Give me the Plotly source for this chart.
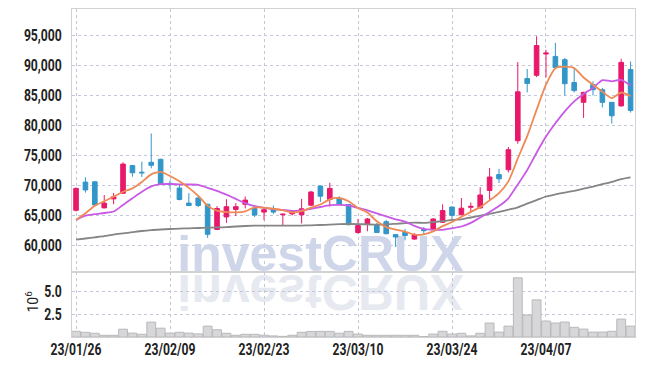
import plotly.graph_objects as go

dates = ["23/01/26", "23/01/27", "23/01/30", "23/01/31",
         "23/02/01", "23/02/02", "23/02/03", "23/02/06", "23/02/07", "23/02/08", "23/02/09",
         "23/02/10", "23/02/13", "23/02/14", "23/02/15", "23/02/16", "23/02/17", "23/02/20",
         "23/02/21", "23/02/22", "23/02/23", "23/02/24", "23/02/27", "23/02/28",
         "23/03/02", "23/03/03", "23/03/06", "23/03/07", "23/03/08", "23/03/09", "23/03/10",
         "23/03/13", "23/03/14", "23/03/15", "23/03/16", "23/03/17", "23/03/20", "23/03/21",
         "23/03/22", "23/03/23", "23/03/24", "23/03/27", "23/03/28", "23/03/29", "23/03/30",
         "23/03/31", "23/04/03", "23/04/04", "23/04/05", "23/04/06", "23/04/07", "23/04/10",
         "23/04/11", "23/04/12", "23/04/13", "23/04/14", "23/04/17", "23/04/18", "23/04/19",
         "23/04/20"]

open_ = [65900, 70600, 70650, 66300, 67800, 68750, 73350, 72250, 73900, 74400,
         70400, 69600, 67100, 67950, 66900, 62700, 64800, 66050, 66900, 66200,
         65600, 66100, 65150, 65300, 65150, 66750, 69950, 67700, 67900, 66850,
         62200, 63600, 63500, 64000, 61850, 62200, 61100, 62700, 62800, 63900,
         66450, 65150, 66400, 66300, 69200, 71850, 72650, 77500, 87850, 88400,
         91950, 91550, 91000, 87200, 83900, 86850, 86000, 83900, 83300, 89350]
high = [69700, 71400, 70700, 68450, 68800, 73900, 73400, 74000, 78700, 74500,
        70900, 70200, 68750, 68250, 67000, 66600, 67750, 67100, 68200, 66750,
        66150, 66700, 65300, 65900, 67800, 69150, 70000, 70500, 68250, 66900,
        64450, 64600, 63800, 64300, 61900, 62800, 62100, 63100, 64600, 66900,
        66500, 67950, 67200, 69750, 72950, 72800, 76450, 90600, 89450, 94900,
        92650, 93800, 91300, 89500, 85650, 87400, 86300, 83950, 91150, 90700]
low = [65700, 68850, 66700, 66250, 66900, 68600, 71500, 71450, 72900, 70100,
       69400, 67550, 66600, 66450, 61300, 62600, 63800, 64950, 66200, 64800,
       64250, 65300, 63300, 65050, 63700, 66600, 67300, 66500, 66800, 63400,
       62000, 62400, 62100, 61900, 59800, 60900, 61000, 61900, 62700, 63800,
       64050, 65050, 65450, 66200, 67550, 70450, 72200, 77000, 85550, 88100,
       88050, 89600, 85000, 85550, 81300, 85050, 83050, 80350, 83200, 82200]
close = [69550, 69300, 66780, 67100, 68150, 73600, 72150, 72150, 73400, 70200,
         70200, 67700, 66700, 66700, 61900, 66200, 66500, 66500, 67600, 65100,
         66000, 65600, 65250, 65750, 66150, 68950, 68250, 69550, 66850, 63500,
         63350, 64450, 62200, 62000, 61450, 61700, 61850, 62500, 64450, 65850,
         65050, 66250, 66550, 68450, 71450, 71150, 76000, 85650, 87050, 93350,
         92100, 89700, 87000, 85850, 85550, 86000, 83900, 81650, 90550, 82550]

volume_m = [0.63, 0.52, 0.41, 0.19, 0.19, 0.86, 0.43, 0.30, 1.64, 0.97,
            0.43, 0.52, 0.43, 0.34, 1.20, 0.80, 0.41, 0.19, 0.30, 0.30,
            0.20, 0.12, 0.07, 0.19, 0.52, 0.61, 0.62, 0.62, 0.42, 0.62,
            0.32, 0.19, 0.19, 0.19, 0.19, 0.19, 0.19, 0.05, 0.32, 0.63,
            0.32, 0.41, 0.12, 0.41, 1.54, 0.54, 1.20, 6.52, 2.43, 4.09,
            1.76, 1.54, 1.65, 1.07, 0.87, 0.54, 0.54, 0.63, 1.97, 1.20]

ma5 = [64300, 65400, 66650, 67400, 68180, 68990, 69560, 70630, 71890, 72300,
       71620, 70730, 69640, 68300, 66640, 65840, 65600, 65560, 65740, 66380,
       66340, 66160, 65910, 65540, 65750, 66340, 66870, 67730, 67950, 67420,
       66300, 65540, 64070, 63100, 62690, 62360, 61840, 61900, 62390, 63270,
       63940, 64820, 65630, 66430, 67550, 68770, 70720, 74540, 78260, 82640,
       86830, 89570, 89840, 89600, 88040, 86820, 85660, 84590, 85530, 84930]
ma20 = [64300, 65000, 65250, 65450, 65700, 66800, 67900, 69000, 69900, 70250,
        70280, 70220, 70200, 70150, 69650, 69150, 68500, 67800, 67100, 66600,
        66300, 66100, 65950, 65800, 65900, 66150, 66450, 66750, 66800, 66700,
        66300, 65900, 65400, 64900, 64400, 64000, 63300, 62800, 62650, 62650,
        62900, 63200, 63800, 64700, 65600, 66600, 67900, 70200, 72600, 75500,
        78200, 80400, 82400, 84050, 85300, 86300, 87600, 87400, 87650, 86700]
ma60 = [61000, 61200, 61400, 61600, 61850, 62050, 62250, 62450, 62600, 62700,
        62780, 62850, 62900, 62950, 63000, 63050, 63100, 63200, 63280, 63330,
        63330, 63330, 63330, 63330, 63350, 63400, 63450, 63500, 63580, 63620,
        63600, 63550, 63500, 63550, 63650, 63750, 63850, 63800, 63950, 64080,
        64300, 64400, 64700, 65000, 65300, 65650, 66000, 66400, 67000, 67600,
        68200, 68550, 68850, 69150, 69500, 69850, 70250, 70650, 71100, 71400]

tick_dates = ["23/01/26", "23/02/09", "23/02/23", "23/03/10", "23/03/24", "23/04/07"]
price_ticks = [60000, 65000, 70000, 75000, 80000, 85000, 90000, 95000]
vol_ticks = [2.5, 5.0]
vol_unit = "10<sup>6</sup>"
watermark = "investCRUX"

UP = "#e8196a"
DOWN = "#3296c8"
AXIS_FONT = dict(family="Roboto, 'Liberation Sans', sans-serif",
                 size=16, color="#222222", weight="bold")
TITLE_FONT = dict(family="Roboto, 'Liberation Sans', sans-serif", size=14, color="#222222")
GRID = dict(showgrid=True, gridcolor="#c3c7d9", griddash="dot", gridwidth=1)
FRAME = dict(showline=True, mirror=True, linecolor="#d2d2d2", linewidth=1, automargin=False)
CATS = dict(type="category", categoryorder="array", categoryarray=dates)

fig = go.Figure()

# watermark and its reflection (base layer, below the candles)
for col, clip in [("rgb(208,214,234)", True), ("rgb(231,233,241)", False)]:
    fig.add_trace(go.Scatter(
        x=[dates[26]], y=[62000], mode="text", text=[watermark],
        textposition="bottom center", cliponaxis=clip,
        textfont=dict(family="'Liberation Sans', Arial, sans-serif", size=50,
                      color=col, weight="bold"),
        xaxis="x", yaxis="y", hoverinfo="skip", showlegend=False))

fig.add_trace(go.Candlestick(
    x=dates, open=open_, high=high, low=low, close=close,
    xaxis="x", yaxis="y3", whiskerwidth=0,
    increasing=dict(line=dict(color=UP, width=1), fillcolor=UP),
    decreasing=dict(line=dict(color=DOWN, width=1), fillcolor=DOWN),
    showlegend=False, hoverinfo="skip"))

for series, color, width in [(ma60, "#858585", 1.8), (ma20, "#c95ae6", 1.8), (ma5, "#ef8a55", 1.8)]:
    fig.add_trace(go.Scatter(
        x=dates, y=series, mode="lines", xaxis="x", yaxis="y3",
        line=dict(color=color, width=width, shape="spline", smoothing=0.6),
        hoverinfo="skip", showlegend=False))

fig.add_trace(go.Bar(
    x=dates, y=volume_m, xaxis="x2", yaxis="y2",
    marker=dict(color="#d7d7d9", line=dict(color="#b9b9bc", width=1)),
    hoverinfo="skip", showlegend=False))

PRICE_RANGE = [55617, 99450]
SPLIT = 65 / 328

# the page body has an 8px margin, so the figure is sized to fit the window
fig.update_layout(
    width=637, height=358,
    margin=dict(l=64, r=10, t=1, b=29, autoexpand=False),
    paper_bgcolor="white", plot_bgcolor="white",
    showlegend=False, hovermode=False, bargap=0.06,
    xaxis=dict(domain=[0, 1], anchor="y", range=[-0.43, 59.47],
               tickvals=tick_dates, showticklabels=False, ticks="",
               rangeslider=dict(visible=False), zeroline=False, **CATS, **GRID, **FRAME),
    xaxis2=dict(domain=[0, 1], anchor="y2", matches="x",
                tickvals=tick_dates, ticktext=tick_dates, tickfont=AXIS_FONT,
                ticks="", ticklabelstandoff=-2, zeroline=False, **CATS, **GRID, **FRAME),
    yaxis=dict(domain=[SPLIT, 1], anchor="x", range=PRICE_RANGE,
               tickvals=price_ticks, tickformat=",d", tickfont=AXIS_FONT,
               ticks="", ticklabelstandoff=6, zeroline=False, **GRID, **FRAME),
    yaxis3=dict(overlaying="y", anchor="x", range=PRICE_RANGE, visible=False),
    yaxis2=dict(domain=[0, SPLIT], anchor="x2", range=[0, 7.16],
                tickvals=vol_ticks, tickformat=".1f", tickfont=AXIS_FONT,
                ticks="", ticklabelstandoff=6, zeroline=False,
                **GRID, **FRAME),
    annotations=[dict(text=vol_unit, xref="paper", yref="paper",
                      x=-0.071, y=0.108, textangle=-90, showarrow=False,
                      font=TITLE_FONT, xanchor="center", yanchor="middle")],
)

post = """
var gd = document.getElementById('{plot_id}');
gd.querySelectorAll('g.textpoint text').forEach(function(el){
  var f = ((el.style && el.style.fill) || '').replace(/\\s/g, '');
  if (f === 'rgb(231,233,241)') {
    var y = parseFloat(el.getAttribute('y')) || 0;
    var p = y + 2;
    el.setAttribute('transform', 'translate(0,' + (2 * p) + ') scale(1,-1)');
  }
});
['g.ytick text', 'g.y2tick text', 'g.x2tick text'].forEach(function(sel){
  gd.querySelectorAll(sel).forEach(function(el){
    var w = el.getComputedTextLength();
    el.setAttribute('lengthAdjust', 'spacingAndGlyphs');
    el.setAttribute('textLength', (w * 0.76).toFixed(1));
  });
});
"""

fig.write_html("out.html", post_script=post)
